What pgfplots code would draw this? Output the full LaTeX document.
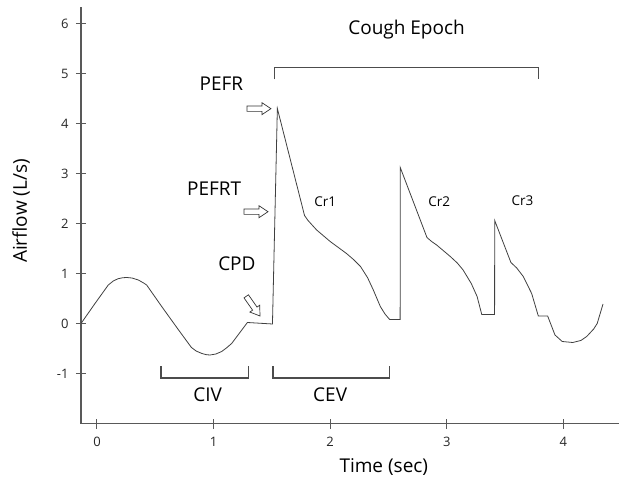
\documentclass[border=0pt]{standalone}
\usepackage{fontspec}
\setmainfont{Open Sans}
\usepackage{pgfplots}
\pgfplotsset{compat=1.18}
\newcommand\lab{\fontsize{19}{22}\selectfont}
\newcommand\sm{\fontsize{13.5}{15}\selectfont}
\begin{document}
\begin{tikzpicture}
\begin{axis}[
  width=538pt, height=416.7pt, scale only axis,
  xmin=-0.137, xmax=4.477, ymin=-1.994, ymax=6.34,
  axis lines*=left,
  axis line style={draw=black!65, line width=1.1pt},
  xtick={0,1,2,3,4}, ytick={-1,0,1,2,3,4,5,6},
  tick align=center, major tick length=10pt,
  tick style={draw=black!65, line width=1pt},
  ticklabel style={font=\fontsize{13}{15}\selectfont, text=black!85},
  xticklabel style={yshift=-5pt},
  yticklabel style={xshift=-4pt},
  /pgf/number format/assume math mode=true,
  clip=false,
]
\addplot[black!75, line width=0.8pt] coordinates {
(-0.137,0.01) (-0.017,0.41) (0.097,0.78) (0.14,0.86) (0.18,0.905) (0.22,0.925) (0.255,0.93) (0.30,0.92) (0.355,0.88) (0.40,0.82) (0.426,0.78) (0.555,0.35) (0.70,-0.12) (0.81,-0.47) (0.85,-0.54) (0.90,-0.59) (0.94,-0.615) (0.97,-0.62) (1.02,-0.60) (1.07,-0.55) (1.11,-0.48) (1.155,-0.39) (1.29,0.03) (1.505,0.00) (1.547,4.31) (1.78,2.17) (1.81,2.07) (1.884,1.88) (2.0,1.65) (2.14,1.41) (2.20,1.29) (2.26,1.15) (2.32,0.93) (2.37,0.68) (2.43,0.35) (2.47,0.20) (2.51,0.09) (2.60,0.09) (2.601,3.13) (2.83,1.73) (2.87,1.65) (2.913,1.58) (3.03,1.35) (3.09,1.22) (3.14,1.08) (3.21,0.81) (3.26,0.55) (3.30,0.19) (3.41,0.19) (3.411,2.07) (3.55,1.23) (3.60,1.12) (3.656,0.95) (3.728,0.61) (3.785,0.16) (3.865,0.16) (3.928,-0.22) (3.99,-0.35) (4.08,-0.37) (4.15,-0.33) (4.20,-0.25) (4.26,-0.10) (4.29,0.01) (4.34,0.40)
};
% brackets
\draw[black!70, line width=1.1pt] (axis cs:1.52,4.89) -- (axis cs:1.52,5.13) -- (axis cs:3.79,5.13) -- (axis cs:3.79,4.89);
\draw[black!70, line width=1.1pt] (axis cs:0.549,-0.85) -- (axis cs:0.549,-1.08) -- (axis cs:1.30,-1.08) -- (axis cs:1.30,-0.85);
\draw[black!70, line width=1.1pt] (axis cs:1.51,-0.85) -- (axis cs:1.51,-1.08) -- (axis cs:2.51,-1.08) -- (axis cs:2.51,-0.85);
% labels
\node[font=\lab] at (axis cs:2.655,5.88) {Cough Epoch};
\node[font=\lab] at (axis cs:1.067,4.80) {PEFR};
\node[font=\lab] at (axis cs:1.005,2.71) {PEFRT};
\node[font=\lab] at (axis cs:1.20,1.20) {CPD};
\node[font=\sm] at (axis cs:1.958,2.44) {Cr1};
\node[font=\sm] at (axis cs:2.935,2.45) {Cr2};
\node[font=\sm] at (axis cs:3.65,2.46) {Cr3};
\node[font=\lab] at (axis cs:0.95,-1.42) {CIV};
\node[font=\lab] at (axis cs:2.0,-1.42) {CEV};
\node[font=\lab] at ([yshift=-43pt]axis cs:2.46,-1.994) {Time (sec)};
\node[font=\lab, rotate=90] at ([xshift=-60pt]axis cs:-0.137,2.26) {Airflow (L/s)};
\coordinate (a1) at (axis cs:1.492,4.306);
\coordinate (a2) at (axis cs:1.467,2.246);
\coordinate (a3) at (axis cs:1.398,0.16);
\end{axis}
\foreach \p/\r in {a1/0, a2/0, a3/-55} {
  \draw[fill=white, draw=black!80, line width=0.7pt, shift={(\p)}, rotate=\r]
    (0pt,0pt) -- (-9pt,6pt) -- (-9pt,2.7pt) -- (-24pt,2.7pt) -- (-24pt,-2.7pt) -- (-9pt,-2.7pt) -- (-9pt,-6pt) -- cycle;
}
\pgfresetboundingbox
\path[use as bounding box] (-81pt,-54.3pt) rectangle (538pt,423.7pt);
\end{tikzpicture}
\end{document}
